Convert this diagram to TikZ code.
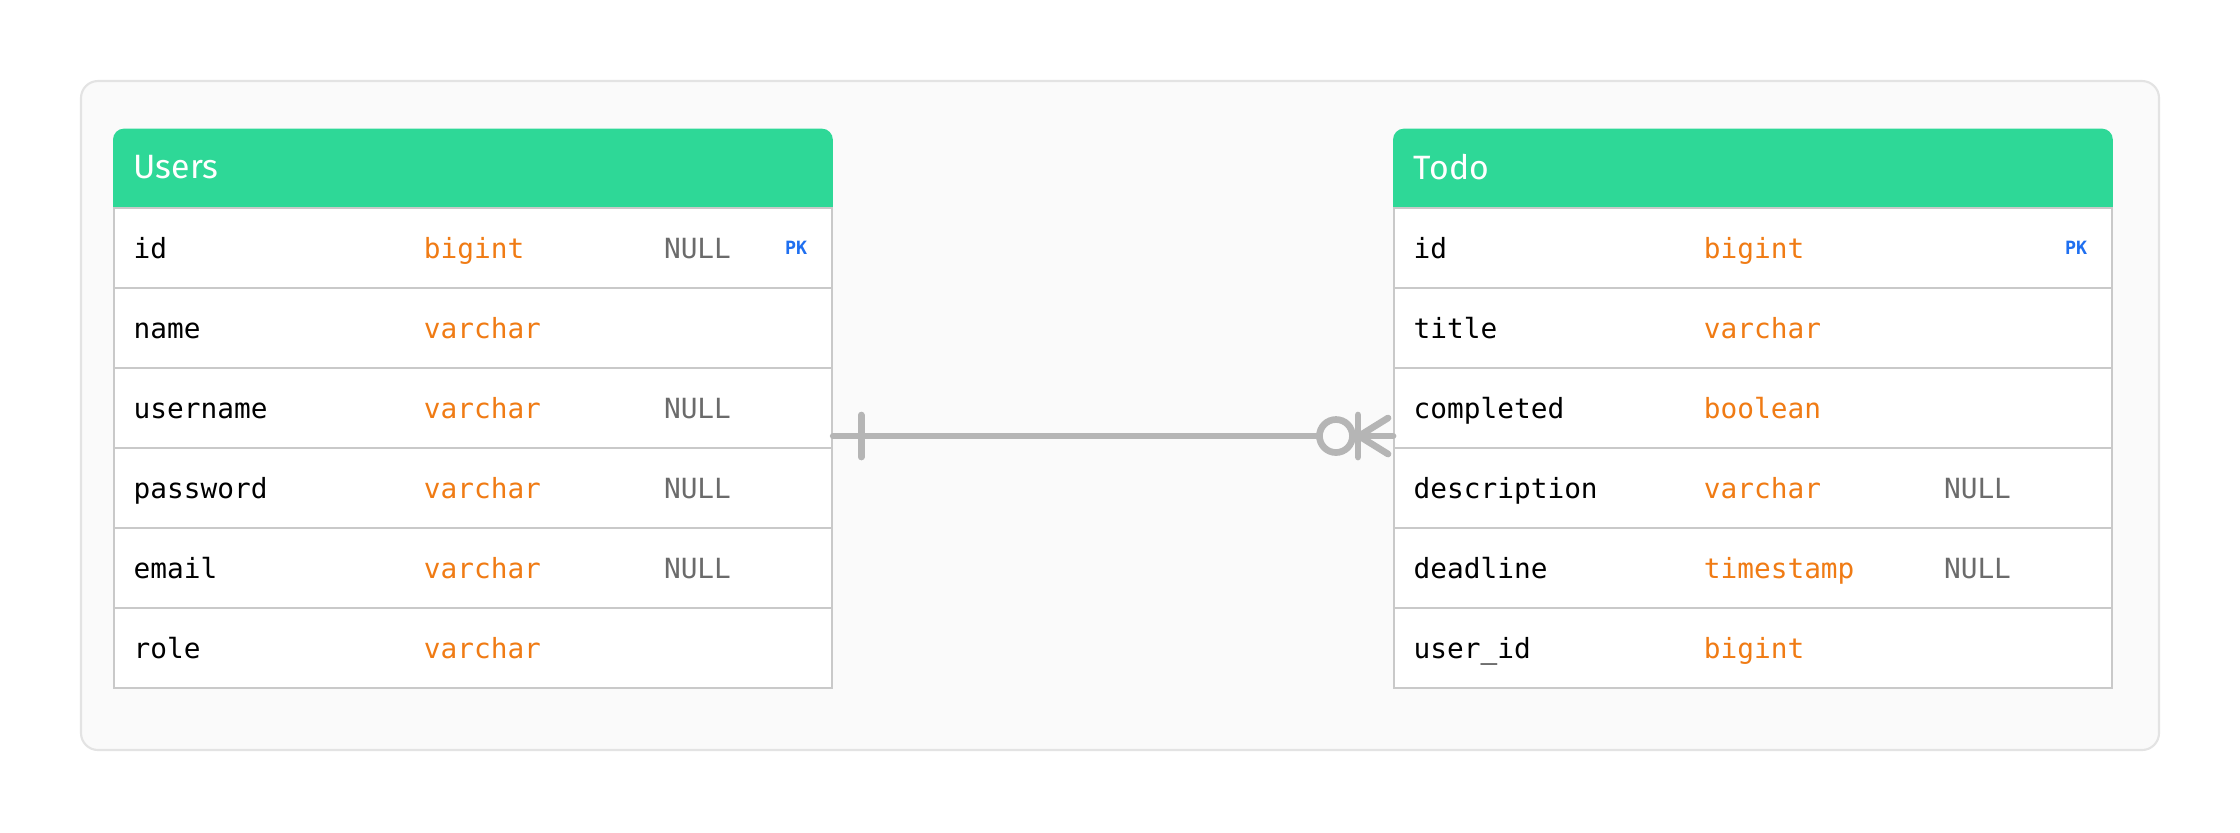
\documentclass[tikz,border=0pt]{standalone}
\usepackage{fontspec}
\setmainfont{Fira Sans}
\setmonofont{DejaVu Sans Mono}
\usetikzlibrary{positioning}

\definecolor{headgreen}{RGB}{46,216,151}
\definecolor{typeorange}{RGB}{240,123,20}
\definecolor{nullgray}{RGB}{107,107,107}
\definecolor{pkblue}{RGB}{31,111,240}
\definecolor{rowline}{RGB}{201,201,201}
\definecolor{panelfill}{RGB}{250,250,250}
\definecolor{panelline}{RGB}{227,227,227}
\definecolor{relgray}{RGB}{181,181,181}

\begin{document}
\begin{tikzpicture}[x=0.01cm, y=-0.01cm,
  panel/.style={draw=panelline, fill=panelfill, line width=0.6pt, rounded corners=0.17cm},
  headbox/.style={minimum width=7.18cm, minimum height=0.786cm, inner sep=0pt, anchor=north west},
  fieldrow/.style={draw=rowline, fill=white, line width=0.5pt, minimum width=7.18cm, minimum height=0.8cm, inner sep=0pt, anchor=north west},
  tabtitle/.style={anchor=west, text=white, inner sep=0pt, font=\fontsize{9.6}{11}\selectfont},
  fieldtext/.style={anchor=west, inner sep=0pt, font=\fontsize{7.9}{9}\selectfont\ttfamily, text height=1.35ex, text depth=0.25ex},
  fname/.style={fieldtext},
  ftype/.style={fieldtext, text=typeorange},
  fnull/.style={fieldtext, text=nullgray},
  fkey/.style={anchor=west, inner sep=0pt, text=pkblue, font=\fontsize{5.2}{6}\selectfont\ttfamily\bfseries},
  rel/.style={draw=relgray, line width=1.9pt, line cap=round}
]
  \useasboundingbox (0,0) rectangle (2240,832);
  \fill[white] (0,0) rectangle (2240,832);
  \draw[panel] (81,81) rectangle (2159,750);

  % Users table
  \node[headbox] (users-head) at (113,128.6) {};
  \fill[headgreen, rounded corners=0.11cm] (users-head.south west) rectangle (users-head.north east);
  \fill[headgreen] (users-head.south west) rectangle (users-head.east);
  \node[tabtitle] (users-title) at ([xshift=0.2cm,yshift=0.02cm]users-head.west) {Users};
  \foreach \fn/\ft/\fz/\fk [count=\i] in {id/bigint/NULL/PK, name/varchar//, username/varchar/NULL/,
      password/varchar/NULL/, email/varchar/NULL/, role/varchar//} {
    \node[fieldrow] (users-r\i) at (113,{207.2+80*(\i-1)}) {};
    \node[fname] (users-n\i) at ([xshift=0.2cm]users-r\i.west) {\fn};
    \node[ftype] (users-t\i) at ([xshift=3.1cm]users-r\i.west) {\ft};
    \node[fnull] (users-z\i) at ([xshift=5.5cm]users-r\i.west) {\fz};
    \node[fkey] (users-k\i) at ([xshift=6.71cm]users-r\i.west) {\fk};
  }

  % Todo table
  \node[headbox] (todo-head) at (1393,128.6) {};
  \fill[headgreen, rounded corners=0.11cm] (todo-head.south west) rectangle (todo-head.north east);
  \fill[headgreen] (todo-head.south west) rectangle (todo-head.east);
  \node[tabtitle] (todo-title) at ([xshift=0.2cm,yshift=0.02cm]todo-head.west) {Todo};
  \foreach \fn/\ft/\fz/\fk [count=\i] in {id/bigint//PK, title/varchar//, completed/boolean//,
      description/varchar/NULL/, deadline/timestamp/NULL/, user\_id/bigint//} {
    \node[fieldrow] (todo-r\i) at (1393,{207.2+80*(\i-1)}) {};
    \node[fname] (todo-n\i) at ([xshift=0.2cm]todo-r\i.west) {\fn};
    \node[ftype] (todo-t\i) at ([xshift=3.1cm]todo-r\i.west) {\ft};
    \node[fnull] (todo-z\i) at ([xshift=5.5cm]todo-r\i.west) {\fz};
    \node[fkey] (todo-k\i) at ([xshift=6.71cm]todo-r\i.west) {\fk};
  }

  % one-to-many relation
  \coordinate (one-end) at ([yshift=0.13cm]users-r3.south east);
  \coordinate (many-end) at ([yshift=0.13cm]todo-r3.south west);
  \draw[rel] (one-end) -- (many-end);
  \draw[rel] ([xshift=0.28cm]one-end) ++(0cm,0.21cm) -- ++(0cm,-0.42cm);
  \draw[rel] ([xshift=-0.35cm]many-end) ++(0cm,0.21cm) -- ++(0cm,-0.42cm);
  \draw[rel] ([xshift=-0.05cm,yshift=0.18cm]many-end) -- ([xshift=-0.34cm]many-end)
    -- ([xshift=-0.05cm,yshift=-0.18cm]many-end);
  \draw[rel, fill=panelfill] ([xshift=-0.57cm]many-end) circle (0.165cm);
\end{tikzpicture}
\end{document}
